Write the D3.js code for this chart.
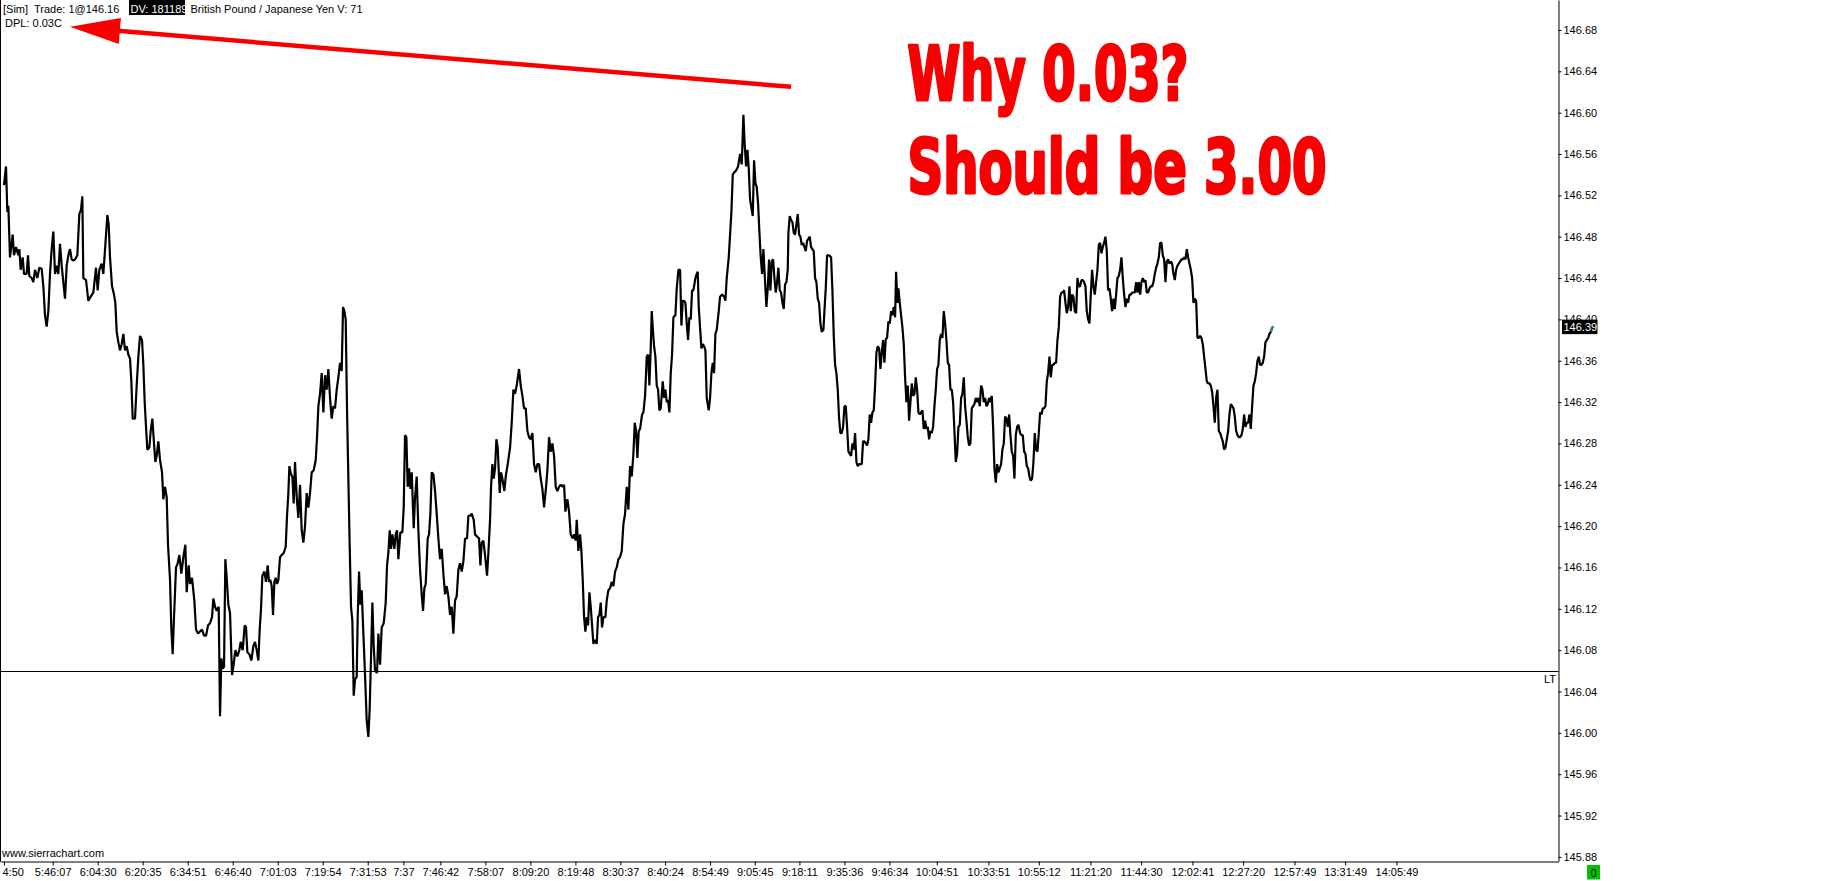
<!DOCTYPE html>
<html><head><meta charset="utf-8">
<script src="https://cdn.jsdelivr.net/npm/d3@7"></script>
<style>
html,body{margin:0;padding:0;background:#fff;overflow:hidden;}
svg{display:block;}
</style></head><body>
<svg id="chart" width="1833" height="881"></svg>
<script>
// ---------------- DATA ----------------
// bar number (chart bar position) of each sampled close
const barIndex = [
12,18,22,25,30,38,42,48,55,58,
62,68,72,80,84,88,95,100,105,112,
118,125,130,135,140,145,150,155,160,165,
170,175,180,185,190,195,200,205,210,215,
220,225,232,238,243,247,250,258,265,272,
280,288,293,298,305,310,316,322,326,330,
336,342,346,350,355,360,365,370,375,380,
385,390,394,398,405,410,415,420,426,430,
434,438,442,448,452,457,462,466,470,475,
480,486,490,495,500,504,510,514,518,522,
528,533,538,544,550,556,560,566,570,576,
583,588,594,600,606,612,618,624,630,636,
640,645,650,656,660,664,668,672,676,680,
685,690,696,700,706,712,718,722,728,734,
738,742,748,754,760,765,770,775,779,783,
787,793,798,803,807,811,815,819,823,827,
831,835,840,845,851,857,861,865,868,873,
877,881,885,890,895,900,905,910,915,920,
925,930,935,941,947,951,955,960,965,970,
975,980,985,990,995,1000,1005,1010,1015,1020,
1025,1029,1033,1037,1041,1045,1049,1053,1057,1061,
1065,1070,1073,1077,1081,1085,1090,1095,1100,1105,
1109,1113,1117,1121,1125,1131,1135,1140,1145,1151,
1157,1161,1165,1169,1173,1177,1183,1187,1191,1195,
1201,1207,1211,1215,1219,1223,1227,1231,1235,1241,
1245,1250,1255,1260,1265,1269,1273,1277,1283,1287,
1291,1295,1300,1305,1310,1315,1320,1325,1330,1335,
1340,1345,1350,1355,1360,1365,1370,1375,1380,1385,
1390,1395,1401,1405,1410,1415,1421,1425,1431,1437,
1441,1445,1450,1455,1461,1465,1470,1473,1477,1481,
1485,1489,1493,1499,1503,1507,1513,1517,1523,1530,
1535,1540,1545,1550,1557,1562,1567,1572,1577,1582,
1587,1592,1597,1602,1607,1612,1617,1622,1627,1632,
1638,1642,1647,1652,1657,1662,1667,1672,1677,1682,
1688,1692,1696,1702,1707,1712,1718,1722,1727,1730,
1735,1740,1744,1748,1752,1756,1760,1764,1768,1772,
1776,1780,1785,1790,1794,1798,1802,1806,1810,1816,
1820,1825,1830,1835,1840,1845,1850,1855,1860,1865,
1870,1875,1880,1885,1890,1895,1900,1904,1908,1912,
1916,1920,1926,1930,1935,1940,1944,1948,1952,1955,
1958,1962,1966,1970,1974,1978,1982,1988,1992,1996,
2000,2004,2008,2012,2016,2020,2026,2030,2035,2040,
2044,2048,2052,2056,2060,2064,2068,2072,2076,2080,
2086,2090,2093,2096,2100,2104,2108,2112,2116,2120,
2126,2130,2134,2138,2142,2146,2150,2156,2160,2166,
2172,2176,2180,2186,2190,2194,2198,2202,2208,2214,
2220,2225,2230,2234,2238,2242,2246,2250,2254,2258,
2262,2266,2270,2274,2278,2282,2286,2290,2295,2299,
2303,2307,2311,2315,2319,2323,2327,2331,2335,2339,
2343,2347,2351,2355,2359,2363,2365,2369,2373,2377,
2381,2385,2389,2393,2397,2401,2405,2409,2413,2417,
2421,2425,2429,2433,2437,2441,2445,2449,2453,2457,
2461,2465,2470,2473,2477,2481,2487,2493,2497,2501,
2505,2509,2513,2517,2521,2525,2529,2533,2537,2541,
2545,2549,2553,2557,2561,2565,2569,2573,2577,2581,
2585,2589,2593,2597,2601,2605,2609,2613,2617,2621,
2625,2629,2633,2637,2641,2645,2649,2653,2657,2661,
2665,2669,2673,2677,2681,2685,2688,2692,2695,2699,
2703,2707,2711,2715,2719,2723,2727,2731,2735,2739,
2743,2747,2751,2755,2759,2763,2767,2771,2775,2779,
2783,2787,2791,2795,2799,2803,2807,2811,2815,2819,
2823,2827,2831,2835,2839,2843,2847,2851,2855,2859,
2863,2867,2871,2875,2879,2883,2887,2891,2895,2899,
2903,2907,2911,2915,2919,2923,2927,2931,2935,2939,
2943,2947,2951,2955,2959,2963,2967,2971,2975,2979,
2983,2987,2991,2995,2999,3003,3007,3011,3015,3019,
3023,3027,3031,3035,3039,3043,3047,3051,3055,3060,
3064,3068,3072,3076,3080,3084,3088,3092,3096,3100,
3104,3108,3112,3116,3120,3124,3128,3132,3136,3140,
3144,3148,3152,3156,3160,3164,3168,3172,3176,3180,
3184,3188,3192,3196,3200,3204,3208,3212,3216,3220,
3224,3228,3232,3236,3240,3244,3248,3252,3256,3260,
3264,3268,3272,3276,3280,3284,3288,3292,3296,3300,
3304,3308,3312,3316,3320,3324,3328,3332,3336,3340,
3344,3348,3352,3356,3360,3364,3368,3372,3376,3380,
3384,3388,3392,3396,3400,3404,3408,3412,3416,3420,
3424,3428,3432,3436,3440,3444,3448,3452,3456,3460,
3464,3468,3472,3476,3480,3484,3488,3492,3496,3500,
3504,3508,3512,3516,3520,3524,3528,3532,3536,3540,
3544,3548,3552,3556,3560,3564,3568,3572,3576,3580,
3584,3588,3592,3596,3600,3604,3608,3612,3616,3620,
3624,3628,3632,3636,3640,3644,3648,3652,3656,3660,
3664,3668,3672,3676,3680,3684,3688,3692,3696,3700,
3704,3708,3712,3716,3720,3724,3728,3732,3736,3740,
3744,3748,3752,3756,3760,3764,3768,3772,3776,3780,
3784,3788,3792,3796,3800,3804,3808,3812,3816,3820
];
// close price of each sampled bar (GBP/JPY)
const closePrice = [
146.530,146.548,146.504,146.510,146.460,146.482,146.462,146.470,146.462,146.468,
146.448,146.460,146.444,146.444,146.462,146.442,146.440,146.436,146.448,146.440,
146.450,146.449,146.432,146.404,146.393,146.408,146.444,146.468,146.485,146.444,
146.452,146.444,146.473,146.452,146.436,146.420,146.452,146.462,146.468,146.458,
146.457,146.458,146.462,146.502,146.506,146.519,146.440,146.438,146.418,146.422,
146.426,146.450,146.428,146.448,146.454,146.444,146.472,146.501,146.492,146.460,
146.432,146.424,146.416,146.388,146.378,146.370,146.376,146.386,146.370,146.374,
146.366,146.362,146.340,146.304,146.304,146.336,146.364,146.384,146.380,146.356,
146.320,146.296,146.274,146.276,146.292,146.304,146.280,146.262,146.268,146.282,
146.264,146.252,146.226,146.238,146.228,146.182,146.148,146.100,146.076,146.112,
146.160,146.164,146.172,146.154,146.170,146.182,146.136,146.162,146.144,146.150,
146.128,146.100,146.096,146.098,146.100,146.094,146.094,146.104,146.106,146.112,
146.130,146.122,146.118,146.122,146.016,146.072,146.062,146.064,146.168,146.150,
146.124,146.116,146.056,146.064,146.080,146.074,146.080,146.088,146.080,146.104,
146.102,146.078,146.076,146.070,146.084,146.088,146.080,146.070,146.100,146.120,
146.152,146.156,146.146,146.162,146.146,146.148,146.142,146.114,146.146,146.150,
146.144,146.148,146.170,146.172,146.174,146.180,146.210,146.232,146.258,146.250,
146.248,146.222,146.262,146.228,146.208,146.240,146.196,146.184,146.200,146.232,
146.218,146.232,146.252,146.254,146.264,146.286,146.316,146.328,146.348,146.310,
146.346,146.332,146.352,146.324,146.304,146.316,146.314,146.332,146.344,146.358,
146.350,146.412,146.408,146.400,146.312,146.246,146.180,146.122,146.108,146.036,
146.052,146.054,146.112,146.156,146.124,146.138,146.096,146.056,146.012,145.996,
146.024,146.074,146.126,146.084,146.060,146.058,146.096,146.066,146.102,146.106,
146.126,146.162,146.174,146.196,146.178,146.192,146.178,146.192,146.196,146.168,
146.194,146.194,146.218,146.288,146.286,146.238,146.256,146.236,146.252,146.198,
146.228,146.248,146.196,146.158,146.134,146.118,146.140,146.144,146.188,146.192,
146.212,146.252,146.250,146.234,146.212,146.188,146.168,146.178,146.154,146.134,
146.142,146.132,146.114,146.122,146.096,146.128,146.132,146.158,146.164,146.156,
146.166,146.188,146.188,146.210,146.210,146.212,146.206,146.192,146.190,146.188,
146.162,146.184,146.186,146.172,146.152,146.174,146.206,146.238,146.260,146.246,
146.256,146.284,146.276,146.232,146.252,146.246,146.234,146.248,146.260,146.276,
146.300,146.332,146.328,146.336,146.352,146.336,146.326,146.314,146.314,146.292,
146.286,146.284,146.290,146.260,146.252,146.260,146.260,146.246,146.236,146.218,
146.238,146.254,146.286,146.272,146.280,146.268,146.238,146.234,146.238,146.240,
146.238,146.240,146.214,146.226,146.214,146.192,146.188,146.192,146.186,146.206,
146.176,146.192,146.176,146.148,146.112,146.098,146.112,146.104,146.136,146.122,
146.104,146.086,146.090,146.086,146.112,146.114,146.126,146.102,146.112,146.112,
146.128,146.138,146.140,146.146,146.142,146.156,146.160,146.168,146.170,146.176,
146.202,146.212,146.238,146.216,146.258,146.248,146.270,146.300,146.292,146.266,
146.292,146.294,146.308,146.310,146.326,146.364,146.366,146.336,146.372,146.408,
146.392,146.374,146.364,146.336,146.332,146.312,146.314,146.340,146.324,146.332,
146.320,146.322,146.310,146.348,146.366,146.402,146.404,146.430,146.448,146.448,
146.394,146.418,146.418,146.416,146.396,146.380,146.402,146.400,146.428,146.428,
146.440,146.444,146.446,146.412,146.392,146.372,146.376,146.374,146.370,146.324,
146.312,146.324,146.348,146.358,146.348,146.386,146.390,146.408,146.422,146.424,
146.422,146.418,146.440,146.460,146.482,146.504,146.540,146.542,146.544,146.548,
146.560,146.550,146.598,146.568,146.548,146.564,146.546,146.516,146.508,146.500,
146.554,146.532,146.528,146.512,146.484,146.460,146.444,146.468,146.436,146.412,
146.430,146.458,146.428,146.456,146.458,146.440,146.426,146.436,146.450,146.428,
146.426,146.416,146.410,146.434,146.436,146.448,146.484,146.500,146.496,146.494,
146.484,146.482,146.492,146.502,146.482,146.480,146.472,146.474,146.470,146.466,
146.476,146.478,146.480,146.470,146.468,146.466,146.440,146.436,146.420,146.416,
146.396,146.388,146.390,146.408,146.430,146.462,146.462,146.460,146.428,146.384,
146.356,146.348,146.332,146.304,146.290,146.290,146.296,146.316,146.316,146.296,
146.272,146.270,146.268,146.280,146.274,146.290,146.262,146.258,146.260,146.260,
146.260,146.282,146.282,146.280,146.278,146.284,146.308,146.300,146.310,146.312,
146.336,146.368,146.374,146.372,146.352,146.368,146.380,146.358,146.381,146.382,
146.398,146.396,146.408,146.404,146.412,146.402,146.446,146.416,146.430,146.416,
146.404,146.392,146.376,146.344,146.320,146.336,146.302,146.320,146.338,146.326,
146.328,146.344,146.332,146.310,146.308,146.310,146.312,146.294,146.302,146.294,
146.296,146.284,146.292,146.290,146.296,146.316,146.332,146.352,146.356,146.380,
146.386,146.382,146.408,146.396,146.380,146.358,146.356,146.332,146.332,146.320,
146.292,146.262,146.270,146.296,146.298,146.324,146.328,146.344,146.316,146.302,
146.286,146.278,146.280,146.314,146.316,146.318,146.324,146.320,146.324,146.316,
146.336,146.332,146.320,146.324,146.316,146.318,146.324,146.320,146.326,146.296,
146.256,146.242,146.260,146.252,146.256,146.260,146.274,146.280,146.306,146.304,
146.296,146.308,146.288,146.272,146.268,146.246,146.288,146.296,146.298,146.290,
146.288,146.288,146.272,146.270,146.258,146.256,146.248,146.244,146.246,146.262,
146.290,146.274,146.272,146.290,146.310,146.308,146.314,146.314,146.316,146.340,
146.348,146.364,146.344,146.356,146.356,146.358,146.358,146.380,146.392,146.422,
146.426,146.426,146.428,146.416,146.406,146.412,146.432,146.408,146.424,146.422,
146.408,146.406,146.440,146.432,146.432,146.438,146.438,146.436,146.432,146.408,
146.400,146.396,146.424,146.448,146.432,146.424,146.436,146.448,146.472,146.474,
146.464,146.470,146.474,146.480,146.466,146.428,146.430,146.420,146.408,146.420,
146.410,146.424,146.440,146.442,146.448,146.460,146.440,146.424,146.412,146.420,
146.416,146.424,146.424,146.426,146.426,146.426,146.436,146.426,146.436,146.424,
146.436,146.440,146.436,146.438,146.426,146.426,146.430,146.432,146.432,146.436,
146.444,146.450,146.454,146.460,146.474,146.474,146.462,146.458,146.436,146.456,
146.458,146.454,146.456,146.454,146.444,146.438,146.448,146.452,146.454,146.456,
146.458,146.458,146.460,146.458,146.468,146.460,146.454,146.448,146.440,146.416,
146.420,146.418,146.382,146.382,146.384,146.382,146.376,146.364,146.352,146.340,
146.338,146.338,146.336,146.330,146.316,146.300,146.324,146.332,146.292,146.290,
146.286,146.282,146.274,146.276,146.284,146.292,146.308,146.318,146.316,146.314,
146.306,146.292,146.288,146.286,146.286,146.288,146.294,146.308,146.296,146.300,
146.300,146.308,146.294,146.316,146.336,146.340,146.348,146.360,146.364,146.356,
146.356,146.358,146.364,146.378,146.380,146.382,146.386,146.388,146.392,146.393
];
// time axis: bar positions and labels
const timeTickBars = [12,158,293,428,563,698,833,968,1103,1210,1321,1456,1591,1726,1861,1995,2130,2264,2398,2533,2668,2810,2965,3116,3271,3423,3577,3729,3883,4035,4189];
const timeTickLabels = ["4:50","5:46:07","6:04:30","6:20:35","6:34:51","6:46:40","7:01:03","7:19:54","7:31:53","7:37","7:46:42","7:58:07","8:09:20","8:19:48","8:30:37","8:40:24","8:54:49","9:05:45","9:18:11","9:35:36","9:46:34","10:04:51","10:33:51","10:55:12","11:21:20","11:44:30","12:02:41","12:27:20","12:57:49","13:31:49","14:05:49"];
// price axis ticks
const priceTicks = [145.88,145.92,145.96,146.00,146.04,146.08,146.12,146.16,146.20,146.24,146.28,146.32,146.36,146.40,146.44,146.48,146.52,146.56,146.60,146.64,146.68];
const lastTradeLevel = 146.06;
const lastPriceLabel = "146.39";
const headerTexts = ["[Sim]  Trade: 1@146.16", "DV: 181189", "British Pound / Japanese Yen V: 71"];
const dplText = "DPL: 0.03C";
const noteLines = ["Why 0.03?", "Should be 3.00"];
// annotation anchors in data units (bar, price)
const noteAnchor = [{bar: 2722, price: 146.612}, {bar: 2722, price: 146.522}];
const arrowTail = {bar: 2373, price: 146.625};
const arrowTip = {bar: 210, price: 146.683};

// ---------------- CHART ----------------
const W = 1833, H = 881;
const plotRight = 1558.5, plotBottom = 861.5;
const svg = d3.select("#chart");
svg.append("rect").attr("width", W).attr("height", H).attr("fill", "#fff");

const x = d3.scaleLinear().domain([0, 4675]).range([0, plotRight]);
const y = d3.scaleLinear().domain([145.876, 146.709]).range([861, 0]);
const FONT = "'Liberation Sans', Arial, sans-serif";

// left border
svg.append("line").attr("x1", 0.5).attr("x2", 0.5).attr("y1", 0).attr("y2", plotBottom)
  .attr("stroke", "#000").attr("stroke-width", 1);

// last trade (LT) horizontal line
svg.append("line").attr("x1", 0).attr("x2", plotRight)
  .attr("y1", Math.round(y(lastTradeLevel)) + 0.5).attr("y2", Math.round(y(lastTradeLevel)) + 0.5)
  .attr("stroke", "#000").attr("stroke-width", 1);
svg.append("text").attr("x", plotRight - 2.5).attr("y", Math.round(y(lastTradeLevel)) + 12)
  .attr("text-anchor", "end").attr("font-family", FONT).attr("font-size", 11).text("LT");

// price line
const pts = barIndex.map((b, i) => [b, closePrice[i]]);
const line = d3.line().x(d => x(d[0])).y(d => y(d[1]));
svg.append("path").datum(pts).attr("d", line)
  .attr("fill", "none").attr("stroke", "#000").attr("stroke-width", 2.2)
  .attr("stroke-linejoin", "bevel");
svg.append("path").datum(pts.slice(-3)).attr("d", line)
  .attr("fill", "none").attr("stroke", "#2a8c8c").attr("stroke-width", 2.2);

// right price axis
const yAxis = d3.axisRight(y).tickValues(priceTicks).tickFormat(d3.format(".2f"))
  .tickSize(3).tickSizeOuter(0).tickPadding(2);
const gy = svg.append("g").attr("transform", `translate(${plotRight},0)`).call(yAxis);
gy.selectAll("text").attr("font-family", FONT).attr("font-size", 11).attr("fill", "#000");
gy.select(".domain").attr("stroke", "#000");

// bottom time axis
const xAxis = d3.axisBottom(x).tickValues(timeTickBars).tickFormat((d, i) => timeTickLabels[i])
  .tickSize(4).tickSizeOuter(0).tickPadding(3);
const gx = svg.append("g").attr("transform", `translate(0,${plotBottom})`).call(xAxis);
gx.selectAll("text").attr("font-family", FONT).attr("font-size", 11).attr("fill", "#000");
gx.select(".tick text").attr("text-anchor", "start").attr("x", -2);

// last price box (drawn over the 146.40 tick label, as in the source)
const lp = closePrice[closePrice.length - 1];
const lpY = y(lp);
svg.append("rect").attr("x", plotRight + 3.5).attr("y", lpY - 7).attr("width", 35.5).attr("height", 14.5).attr("fill", "#000");
svg.append("text").attr("x", plotRight + 5).attr("y", lpY + 4).attr("font-family", FONT).attr("font-size", 11)
  .attr("fill", "#fff").text(lastPriceLabel);

// green box at bottom right
svg.append("rect").attr("x", 1587).attr("y", 865).attr("width", 13).attr("height", 14.5).attr("fill", "#00c000");
svg.append("text").attr("x", 1593.5).attr("y", 877).attr("text-anchor", "middle")
  .attr("font-family", FONT).attr("font-size", 11).attr("fill", "#000").text("0");

// watermark
svg.append("text").attr("x", 2).attr("y", 857).attr("font-family", FONT).attr("font-size", 11)
  .attr("fill", "#000").text("www.sierrachart.com");

// header
svg.append("text").attr("x", 3).attr("y", 13).attr("font-family", FONT).attr("font-size", 11)
  .style("white-space", "pre").attr("fill", "#000").text(headerTexts[0]);
svg.append("rect").attr("x", 129).attr("y", 0).attr("width", 56).attr("height", 15).attr("fill", "#000");
svg.append("text").attr("x", 130.5).attr("y", 13).attr("font-family", FONT).attr("font-size", 11)
  .attr("fill", "#fff").text(headerTexts[1]);
svg.append("rect").attr("x", 185).attr("y", 0).attr("width", 6).attr("height", 15).attr("fill", "#fff");
svg.append("text").attr("x", 190.5).attr("y", 13).attr("font-family", FONT).attr("font-size", 11)
  .attr("fill", "#000").text(headerTexts[2]);
svg.append("text").attr("x", 5).attr("y", 27).attr("font-family", FONT).attr("font-size", 11)
  .attr("fill", "#000").text(dplText);

// red annotation text
const RED = "#f80000";
const noteWidths = [281, 419];
noteLines.forEach((t, i) => {
  svg.append("text").attr("x", x(noteAnchor[i].bar)).attr("y", y(noteAnchor[i].price))
    .attr("font-family", "'Liberation Sans Narrow','DejaVu Sans Condensed','Liberation Sans',sans-serif")
    .attr("font-weight", "bold").attr("font-size", 74)
    .attr("textLength", noteWidths[i]).attr("lengthAdjust", "spacingAndGlyphs")
    .attr("fill", RED).attr("stroke", RED).attr("stroke-width", 3).attr("stroke-linejoin", "round")
    .text(t);
});

// red arrow
const tx = x(arrowTail.bar), ty = y(arrowTail.price);
const hx = x(arrowTip.bar), hy = y(arrowTip.price);
const dx = hx - tx, dy = hy - ty, len = Math.hypot(dx, dy);
const ux = dx / len, uy = dy / len, px = -uy, py = ux;
const headL = 50, headW = 13;
const bx = hx - ux * headL, by = hy - uy * headL;
svg.append("line").attr("x1", tx).attr("y1", ty).attr("x2", bx + ux * 2).attr("y2", by + uy * 2)
  .attr("stroke", RED).attr("stroke-width", 4.5);
svg.append("path")
  .attr("d", `M${hx},${hy}L${bx + px * headW},${by + py * headW}L${bx - px * headW},${by - py * headW}Z`)
  .attr("fill", RED);
</script>
</body></html>
